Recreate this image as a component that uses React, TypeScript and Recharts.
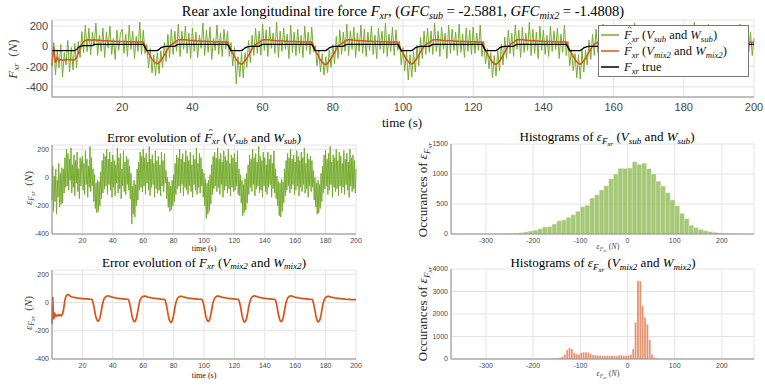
import React from "react";
import { LineChart, Line, BarChart, Bar, XAxis, YAxis, CartesianGrid, Legend } from "recharts";

// samples every 0.5 s, t = 0 .. 200 s
const sampleStep = 0.5;

// true rear axle longitudinal force (N)
const trueForce = [
  -42, -42, -42, -42, -42, -42, -42, -42, -42, -42, -42, -42, -42, -42, -32, -12, 0, 5, 8, 8,
  8, 8, 8, 8, 20, 20, 20, 20, 20, 20, 20, 20, 20, 20, 20, 20, 20, 20, 20, 20,
  20, 20, 20, 20, 20, 20, 20, 20, 20, 20, 20, 20, 20, -10, -42, -42, -42, -42, -42, -42,
  -42, -30, -14, -8, -3, 0, 0, 0, 0, 0, 0, 12, 20, 20, 20, 20, 20, 20, 20, 20,
  20, 20, 20, 20, 20, 20, 20, 20, 20, 20, 20, 20, 20, 20, 20, 20, 20, 20, 20, 20,
  20, -10, -42, -42, -42, -42, -42, -42, -42, -30, -14, -8, -3, 0, 0, 0, 0, 0, 0, 12,
  20, 20, 20, 20, 20, 20, 20, 20, 20, 20, 20, 20, 20, 20, 20, 20, 20, 20, 20, 20,
  20, 20, 20, 20, 20, 20, 20, 20, 20, -10, -42, -42, -42, -42, -42, -42, -42, -30, -14, -8,
  -3, 0, 0, 0, 0, 0, 0, 12, 20, 20, 20, 20, 20, 20, 20, 20, 20, 20, 20, 20,
  20, 20, 20, 20, 20, 20, 20, 20, 20, 20, 20, 20, 20, 20, 20, 20, 20, 20, -10, -42,
  -42, -42, -42, -42, -42, -42, -30, -14, -8, -3, 0, 0, 0, 0, 0, 0, 12, 20, 20, 20,
  20, 20, 20, 20, 20, 20, 20, 20, 20, 20, 20, 20, 20, 20, 20, 20, 20, 20, 20, 20,
  20, 20, 20, 20, 20, 20, -10, -42, -42, -42, -42, -42, -42, -42, -30, -14, -8, -3, 0, 0,
  0, 0, 0, 0, 12, 20, 20, 20, 20, 20, 20, 20, 20, 20, 20, 20, 20, 20, 20, 20,
  20, 20, 20, 20, 20, 20, 20, 20, 20, 20, 20, 20, 20, 20, -10, -42, -42, -42, -42, -42,
  -42, -42, -30, -14, -8, -3, 0, 0, 0, 0, 0, 0, 12, 20, 20, 20, 20, 20, 20, 20,
  20, 20, 20, 20, 20, 20, 20, 20, 20, 20, 20, 20, 20, 20, 20, 20, 20, 20, 20, 20,
  20, 20, 20, -10, -42, -42, -42, -42, -42, -42, -42, -30, -14, -8, -3, 0, 0, 0, 0, 0,
  0, 12, 20, 20, 20, 20, 20, 20, 20, 20, 20, 20, 20, 20, 20, 20, 20, 20, 20, 20,
  20, 20, 20, 20, 20, 20, 20, 20, 20, 20, 20, 20, 20, 20, 20, 20, 20, 20, 20, 20,
  20,
];

// estimation error with V_sub / W_sub (N)
const errorSub = [
  -160, 80, -240, 10, -170, 60, -260, -20, -140, 100, -210, 30, -190, 70, -180, 60, -110, 140, -70, 200,
  -60, 170, -90, 130, -20, 210, -110, 90, -70, 160, -130, 120, -40, 180, -100, 60, -150, 140, -60, 110,
  150, -90, 100, -120, 190, -50, 130, -140, 80, -70, 220, -100, 140, -60, 60, -170, 20, -220, -40, -250,
  -20, -240, -30, -200, 40, -150, 120, -110, 170, -80, 150, -60, 200, -120, 130, -50, 180, -90, 110, -140,
  160, -70, 120, -130, 90, -40, 210, -110, 140, -80, 170, -150, 60, -60, 190, -100, 110, -120, 150, -50,
  130, -90, 80, -150, 30, -330, -60, -260, -20, -280, -50, -200, 60, -160, 110, -90, 180, -70, 150, -100,
  200, -60, 140, -120, 170, -40, 110, -90, 220, -130, 130, -70, 160, -50, 100, -140, 190, -80, 120, -110,
  150, -90, 90, -130, 180, -60, 120, -100, 170, -40, 50, -150, 0, -210, -30, -240, -60, -230, -20, -200,
  20, -170, 100, -120, 160, -80, 140, -60, 200, -110, 130, -50, 170, -130, 110, -70, 190, -90, 150, -120,
  120, -60, 180, -100, 90, -140, 160, -50, 130, -90, 210, -120, 100, -70, 170, -110, 140, -60, 60, -140,
  30, -200, -10, -290, -40, -260, -20, -240, 20, -190, 90, -120, 150, -80, 180, -60, 140, -100, 210, -70,
  130, -120, 170, -50, 110, -140, 190, -90, 150, -60, 120, -110, 200, -80, 100, -130, 160, -70, 140, -100,
  170, -90, 110, -60, 190, -120, 60, -130, 20, -180, -20, -270, -50, -250, -10, -230, 30, -180, 90, -120,
  160, -70, 130, -100, 200, -50, 140, -130, 170, -80, 110, -60, 220, -110, 150, -90, 120, -140, 180, -60,
  140, -100, 90, -120, 180, -70, 130, -50, 160, -140, 100, -80, 190, -110, 60, -150, 10, -200, -30, -270,
  -40, -280, -10, -240, -30, -180, 60, -130, 120, -90, 170, -60, 140, -110, 200, -80, 130, -50, 160, -120,
  110, -90, 190, -60, 150, -130, 120, -70, 180, -100, 140, -50, 210, -110, 100, -80, 170, -140, 130, -60,
  150, -100, 120, -70, 50, -160, 0, -210, -40, -260, -20, -250, -50, -220, 30, -170, 80, -110, 160, -80,
  190, -60, 130, -120, 170, -90, 220, -50, 110, -140, 160, -70, 140, -100, 200, -80, 120, -130, 180, -60,
  150, -110, 100, -70, 190, -120, 130, -50, 170, -90, 110, -140, 200, -60, 140, -100, 160, -80, 120, -110,
  60,
];

// estimation error with V_mix2 / W_mix2 (N)
const errorMix2 = [
  -150, 40, -120, -70, -98, -88, -95, -90, -93, -87, -92, -89, -94, -88, -80, -55, -20, 15, 38, 50,
  55, 56, 54, 52, 44, 42, 40, 39, 37, 36, 35, 34, 33, 32, 31, 31, 30, 29, 29, 28,
  28, 27, 27, 26, 26, 25, 25, 25, 24, 24, 23, 23, 22,
  17, -1, -24, -54, -84, -107, -122, -130, -131, -124, -108, -84, -55, -25, 0, 18, 30, 37, 41, 44, 46, 47, 46, 44, 42,
  39, 38, 37, 35, 34, 33, 32, 31, 30, 30, 29, 28, 28, 27, 26, 26, 25, 25, 24, 24, 23, 23, 22,
  16, -3, -27, -58, -88, -111, -127, -134, -135, -128, -111, -87, -57, -27, -1, 17, 29, 36, 40, 43, 44, 45, 45, 43, 41,
  38, 37, 36, 35, 34, 33, 32, 31, 30, 29, 29, 28, 27, 27, 26, 25, 25, 24, 24, 23, 23, 22, 22,
  15, -5, -30, -62, -93, -117, -132, -140, -139, -131, -114, -89, -59, -28, -2, 16, 28, 35, 39, 42, 44, 44, 43, 41, 39,
  38, 36, 35, 34, 33, 32, 31, 30, 30, 29, 28, 28, 27, 26, 26, 25, 25, 24, 24, 23, 23, 22, 22, 22,
  17, -2, -25, -56, -86, -109, -125, -132, -133, -126, -109, -85, -55, -25, 0, 18, 30, 37, 41, 44, 46, 45, 44, 42, 40,
  38, 37, 36, 35, 34, 33, 32, 31, 30, 29, 29, 28, 27, 27, 26, 26, 25, 25, 24, 24, 23, 23, 22,
  16, -4, -28, -60, -90, -114, -130, -137, -137, -129, -112, -87, -57, -26, -1, 17, 29, 37, 42, 45, 47, 46, 45, 43, 41,
  39, 38, 36, 35, 34, 33, 32, 31, 30, 29, 29, 28, 27, 27, 26, 26, 25, 25, 24, 24, 23, 23, 22,
  17, -2, -26, -57, -87, -110, -126, -134, -134, -127, -110, -85, -55, -25, 0, 18, 31, 38, 42, 45, 47, 46, 45, 43, 41,
  39, 37, 36, 35, 34, 33, 32, 31, 30, 30, 29, 28, 28, 27, 26, 26, 25, 25, 24, 24, 23, 23, 22, 22,
  16, -3, -27, -58, -88, -112, -128, -136, -135, -128, -111, -86, -56, -26, -1, 17, 29, 35, 39, 42, 43, 43, 42, 40, 38,
  37, 36, 35, 34, 33, 32, 31, 30, 29, 29, 28, 27, 27, 26, 26, 25, 25, 24, 24, 23, 23, 23, 22, 22, 22, 21, 21, 21, 21, 20,
  20, 20, 20,
];

// histogram of errorSub: 10 N bins starting at -370 N
const subBinStart = -370;
const subBinWidth = 10;
const subCounts = [
  1, 1, 2, 2, 3, 3, 4, 4, 5, 6, 7, 9, 12, 16, 22, 35, 50, 65, 88, 120,
  125, 167, 220, 235, 278, 322, 378, 456, 480, 600, 656, 733, 805, 922, 1000, 1094, 1094, 1100, 1205, 1160,
  1180, 1090, 1000, 880, 800, 690, 570, 470, 345, 255, 145, 110, 78, 56, 40, 28, 18, 11, 7, 5,
  3, 2, 1,
];

// histogram of errorMix2: 5 N bins starting at -165 N
const mixBinStart = -165;
const mixBinWidth = 5;
const mixCounts = [
  5, 10, 20, 30, 60, 110, 200, 400, 500, 450, 280, 220, 200, 280, 300, 300, 290, 220, 180, 170,
  160, 150, 150, 145, 150, 140, 145, 140, 130, 160, 180, 150, 150, 160, 200, 450, 1630, 3480, 3460, 2370,
  1850, 1540, 850, 210, 75, 30,
];

const timeTicks = [20, 40, 60, 80, 100, 120, 140, 160, 180, 200];
const topYTicks = [-400, -200, 0, 200];
const errYTicks = [-400, -200, 0, 200];
const histXTicks = [-300, -200, -100, 0, 100, 200];
const subHistYTicks = [0, 500, 1000, 1500];
const mixHistYTicks = [0, 1000, 2000, 3000, 4000];

const GREEN = "#77AC30";
const ORANGE = "#D95319";
const GRID = "#e4e4e4";
const AXIS = "#8c8c8c";
const TICK = "#454545";
const SERIF = '"Liberation Serif", "Times New Roman", serif';
const SANS = '"Liberation Sans", Arial, sans-serif';

const timeSeries = trueForce.map((f, i) => ({
  t: i * sampleStep,
  sub: f + errorSub[i],
  mix: f + errorMix2[i],
  tru: f,
  errSub: errorSub[i],
  errMix: errorMix2[i],
}));

const subHist = subCounts.map((n, i) => ({ x: subBinStart + subBinWidth * (i + 0.5), n }));
const mixHist = mixCounts.map((n, i) => ({ x: mixBinStart + mixBinWidth * (i + 0.5), n }));

const Sub = ({ children }: { children: React.ReactNode }) => (
  <sub style={{ fontSize: "0.7em", verticalAlign: "-0.3em", lineHeight: 0, fontStyle: "italic" }}>{children}</sub>
);

// circumflex accent drawn as a small stroke, not as a glyph
const Hat = ({ children }: { children: React.ReactNode }) => (
  <span style={{ position: "relative", display: "inline-block", fontStyle: "italic" }}>
    {children}
    <svg viewBox="0 0 10 5" style={{ position: "absolute", left: "0.26em", top: "-0.14em", width: "0.42em", height: "0.2em", overflow: "visible" }}>
      <polyline points="1,5 5,1 9,5" fill="none" stroke="currentColor" strokeWidth={1.3} />
    </svg>
  </span>
);

const Fxr = ({ hat = false }: { hat?: boolean }) => (
  <>
    {hat ? <Hat>F</Hat> : <i>F</i>}
    <Sub>xr</Sub>
  </>
);

const EpsF = () => (
  <>
    <i>ε</i>
    <Sub>
      F<sub style={{ fontSize: "0.75em", verticalAlign: "-0.25em", lineHeight: 0 }}>xr</sub>
    </Sub>
  </>
);

function Txt({
  x,
  y,
  size,
  rotate = false,
  color = "#111",
  children,
}: {
  x: number;
  y: number;
  size: number;
  rotate?: boolean;
  color?: string;
  children: React.ReactNode;
}) {
  return (
    <div
      style={{
        position: "absolute",
        left: x,
        top: y,
        transform: `translate(-50%, -50%)${rotate ? " rotate(-90deg)" : ""}`,
        fontFamily: SERIF,
        fontSize: size,
        color,
        whiteSpace: "nowrap",
        lineHeight: 1,
      }}
    >
      {children}
    </div>
  );
}

const legendRows = [
  { color: GREEN, label: <><Fxr hat /> (<i>V</i><Sub>sub</Sub> and <i>W</i><Sub>sub</Sub>)</> },
  { color: ORANGE, label: <><Fxr hat /> (<i>V</i><Sub>mix2</Sub> and <i>W</i><Sub>mix2</Sub>)</> },
  { color: "#000", label: <><Fxr /> true</> },
];

function ForceLegend() {
  return (
    <div
      style={{
        width: 149,
        height: 49,
        background: "#fff",
        border: "1px solid #777",
        fontFamily: SERIF,
        fontSize: 12.5,
        color: "#111",
        paddingTop: 1,
      }}
    >
      {legendRows.map((r, i) => (
        <div key={i} style={{ display: "flex", alignItems: "center", height: 16 }}>
          <svg width={22} height={8} style={{ marginLeft: 1 }}>
            <line x1={1} x2={19} y1={4} y2={4} stroke={r.color} strokeWidth={1.5} />
          </svg>
          <span style={{ marginLeft: 2 }}>{r.label}</span>
        </div>
      ))}
    </div>
  );
}

const bigTick = { fontSize: 11, fill: TICK, fontFamily: SANS };
const smallTick = { fontSize: 7, fill: TICK, fontFamily: SANS };

export default function App() {
  return (
    <div style={{ position: "absolute", left: 0, top: 0, width: 765, height: 386, background: "#fff", overflow: "hidden" }}>
      {/* top: force estimates */}
      <div style={{ position: "absolute", left: 0, top: 0 }}>
        <LineChart width={765} height={120} data={timeSeries} margin={{ top: 20, right: 11, bottom: 0, left: 0 }}>
          <CartesianGrid stroke={GRID} />
          <XAxis dataKey="t" type="number" domain={[0, 200]} ticks={timeTicks} interval={0} height={23}
            tickLine={false} axisLine={{ stroke: AXIS }} tick={bigTick} tickSize={4} tickMargin={2} />
          <YAxis type="number" domain={[-500, 260]} ticks={topYTicks} interval={0} width={52}
            tickLine={false} axisLine={{ stroke: AXIS }} tick={bigTick} tickSize={2} tickMargin={2} />
          <Line dataKey="sub" stroke={GREEN} strokeWidth={1} dot={false} isAnimationActive={false} />
          <Line dataKey="mix" stroke={ORANGE} strokeWidth={1.5} dot={false} isAnimationActive={false} />
          <Line dataKey="tru" stroke="#000" strokeWidth={1.3} dot={false} isAnimationActive={false} />
          <Legend layout="vertical" align="center" verticalAlign="middle"
            wrapperStyle={{ left: 598, top: 25, width: 151, height: "auto" }} content={() => <ForceLegend />} />
        </LineChart>
      </div>

      {/* middle left: error sub */}
      <div style={{ position: "absolute", left: 0, top: 130 }}>
        <LineChart width={370} height={125} data={timeSeries} margin={{ top: 15, right: 14, bottom: 0, left: 0 }}>
          <CartesianGrid stroke={GRID} />
          <XAxis dataKey="t" type="number" domain={[0, 200]} ticks={timeTicks} interval={0} height={21}
            tickLine={false} axisLine={{ stroke: AXIS }} tick={smallTick} tickSize={3} tickMargin={1} />
          <YAxis type="number" domain={[-400, 230]} ticks={errYTicks} interval={0} width={52}
            tickLine={false} axisLine={{ stroke: AXIS }} tick={smallTick} tickSize={2} tickMargin={1} />
          <Line dataKey="errSub" stroke={GREEN} strokeWidth={1} dot={false} isAnimationActive={false} />
        </LineChart>
      </div>

      {/* bottom left: error mix2 */}
      <div style={{ position: "absolute", left: 0, top: 255 }}>
        <LineChart width={370} height={130} data={timeSeries} margin={{ top: 15, right: 14, bottom: 0, left: 0 }}>
          <CartesianGrid stroke={GRID} />
          <XAxis dataKey="t" type="number" domain={[0, 200]} ticks={timeTicks} interval={0} height={26}
            tickLine={false} axisLine={{ stroke: AXIS }} tick={smallTick} tickSize={3} tickMargin={1} />
          <YAxis type="number" domain={[-400, 230]} ticks={errYTicks} interval={0} width={52}
            tickLine={false} axisLine={{ stroke: AXIS }} tick={smallTick} tickSize={2} tickMargin={1} />
          <Line dataKey="errMix" stroke={ORANGE} strokeWidth={1.7} dot={false} isAnimationActive={false} />
        </LineChart>
      </div>

      {/* histogram sub */}
      <div style={{ position: "absolute", left: 390, top: 130 }}>
        <BarChart width={375} height={125} data={subHist} barCategoryGap={0} barGap={0}
          margin={{ top: 14, right: 11, bottom: 0, left: 0 }}>
          <CartesianGrid stroke={GRID} />
          <XAxis dataKey="x" type="number" domain={[-374, 268]} ticks={histXTicks} interval={0} height={21}
            tickLine={false} axisLine={{ stroke: AXIS }} tick={smallTick} tickSize={3} tickMargin={1} />
          <YAxis type="number" domain={[0, 1500]} ticks={subHistYTicks} interval={0} width={61}
            tickLine={false} axisLine={{ stroke: AXIS }} tick={smallTick} tickSize={2} tickMargin={1} />
          <Bar dataKey="n" fill={GREEN} fillOpacity={0.65} stroke="#ffffff" strokeOpacity={0.7} strokeWidth={0.5}
            isAnimationActive={false} />
        </BarChart>
      </div>

      {/* histogram mix2 */}
      <div style={{ position: "absolute", left: 390, top: 255 }}>
        <BarChart width={375} height={130} data={mixHist} barCategoryGap={0} barGap={0}
          margin={{ top: 14, right: 11, bottom: 0, left: 0 }}>
          <CartesianGrid stroke={GRID} />
          <XAxis dataKey="x" type="number" domain={[-374, 268]} ticks={histXTicks} interval={0} height={26}
            tickLine={false} axisLine={{ stroke: AXIS }} tick={smallTick} tickSize={3} tickMargin={1} />
          <YAxis type="number" domain={[0, 4000]} ticks={mixHistYTicks} interval={0} width={61}
            tickLine={false} axisLine={{ stroke: AXIS }} tick={smallTick} tickSize={2} tickMargin={1} />
          <Bar dataKey="n" fill={ORANGE} fillOpacity={0.65} stroke="#ffffff" strokeOpacity={0.6} strokeWidth={0.4}
            isAnimationActive={false} />
        </BarChart>
      </div>

      {/* titles and axis labels */}
      <Txt x={403} y={11} size={14.5} color="#000">
        Rear axle longitudinal tire force <Fxr />, (<i>GFC</i><Sub>sub</Sub> = -2.5881, <i>GFC</i><Sub>mix2</Sub> = -1.4808)
      </Txt>
      <Txt x={402} y={122} size={13}>time (s)</Txt>
      <Txt x={12} y={59} size={13} rotate color="#444">
        <Fxr />&nbsp;&nbsp;(<i>N</i>)
      </Txt>

      <Txt x={204} y={137} size={13} color="#000">
        Error evolution of <Fxr hat /> (<i>V</i><Sub>sub</Sub> and <i>W</i><Sub>sub</Sub>)
      </Txt>
      <Txt x={204} y={249} size={8}>time (s)</Txt>
      <Txt x={28} y={188} size={11} rotate color="#444">
        <EpsF />&nbsp;&nbsp;(<i>N</i>)
      </Txt>

      <Txt x={204} y={262} size={13} color="#000">
        Error evolution of <Fxr /> (<i>V</i><Sub>mix2</Sub> and <i>W</i><Sub>mix2</Sub>)
      </Txt>
      <Txt x={204} y={376} size={8}>time (s)</Txt>
      <Txt x={28} y={313} size={11} rotate color="#444">
        <EpsF />&nbsp;&nbsp;(<i>N</i>)
      </Txt>

      <Txt x={607} y={137} size={13} color="#000">
        Histograms of <EpsF /> (<i>V</i><Sub>sub</Sub> and <i>W</i><Sub>sub</Sub>)
      </Txt>
      <Txt x={608} y={247} size={8} color="#444">
        <EpsF />&nbsp;(<i>N</i>)
      </Txt>
      <Txt x={423} y={190} size={13} rotate color="#222">
        Occurances of <EpsF />
      </Txt>

      <Txt x={603} y={263} size={13} color="#000">
        Histograms of <EpsF /> (<i>V</i><Sub>mix2</Sub> and <i>W</i><Sub>mix2</Sub>)
      </Txt>
      <Txt x={608} y={374} size={8} color="#444">
        <EpsF />&nbsp;(<i>N</i>)
      </Txt>
      <Txt x={423} y={314} size={13} rotate color="#222">
        Occurances of <EpsF />
      </Txt>
    </div>
  );
}
